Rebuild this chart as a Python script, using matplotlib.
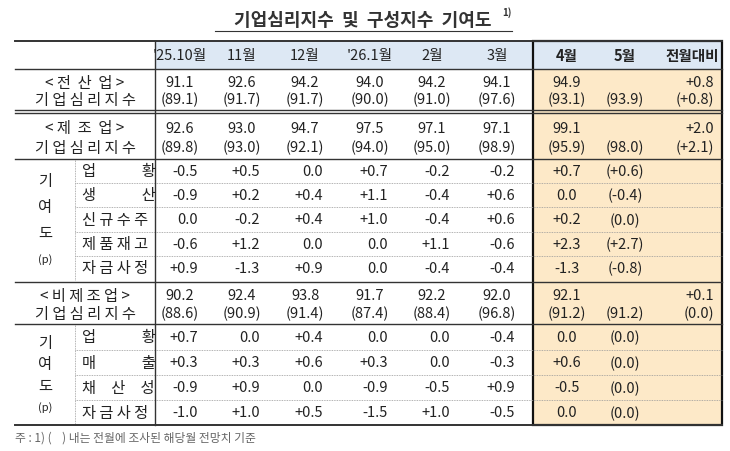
import matplotlib
matplotlib.use("Agg")
import matplotlib.pyplot as plt
from matplotlib.patches import Rectangle

plt.rcParams['font.family'] = ['Noto Sans CJK KR', 'DejaVu Sans']

title = "기업심리지수  및  구성지수  기여도"
months = ["'25.10월", "11월", "12월", "'26.1월", "2월", "3월"]
box_heads = ["4월", "5월", "전월대비"]

all_ind = ["91.1", "92.6", "94.2", "94.0", "94.2", "94.1"]
all_ind_prev = ["(89.1)", "(91.7)", "(91.7)", "(90.0)", "(91.0)", "(97.6)"]
all_box = ["94.9", "", "+0.8"]
all_box_prev = ["(93.1)", "(93.9)", "(+0.8)"]

mfg = ["92.6", "93.0", "94.7", "97.5", "97.1", "97.1"]
mfg_prev = ["(89.8)", "(93.0)", "(92.1)", "(94.0)", "(95.0)", "(98.9)"]
mfg_box = ["99.1", "", "+2.0"]
mfg_box_prev = ["(95.9)", "(98.0)", "(+2.1)"]
mfg_items = ["업　　　황", "생　　　산", "신 규 수 주", "제 품 재 고", "자 금 사 정"]
mfg_vals = [["-0.5", "+0.5", "0.0", "+0.7", "-0.2", "-0.2", "+0.7", "(+0.6)"],
            ["-0.9", "+0.2", "+0.4", "+1.1", "-0.4", "+0.6", "0.0", "(-0.4)"],
            ["0.0", "-0.2", "+0.4", "+1.0", "-0.4", "+0.6", "+0.2", "(0.0)"],
            ["-0.6", "+1.2", "0.0", "0.0", "+1.1", "-0.6", "+2.3", "(+2.7)"],
            ["+0.9", "-1.3", "+0.9", "0.0", "-0.4", "-0.4", "-1.3", "(-0.8)"]]

non = ["90.2", "92.4", "93.8", "91.7", "92.2", "92.0"]
non_prev = ["(88.6)", "(90.9)", "(91.4)", "(87.4)", "(88.4)", "(96.8)"]
non_box = ["92.1", "", "+0.1"]
non_box_prev = ["(91.2)", "(91.2)", "(0.0)"]
non_items = ["업　　　황", "매　　　출", "채　산　성", "자 금 사 정"]
non_vals = [["+0.7", "0.0", "+0.4", "0.0", "0.0", "-0.4", "0.0", "(0.0)"],
            ["+0.3", "+0.3", "+0.6", "+0.3", "0.0", "-0.3", "+0.6", "(0.0)"],
            ["-0.9", "+0.9", "0.0", "-0.9", "-0.5", "+0.9", "-0.5", "(0.0)"],
            ["-1.0", "+1.0", "+0.5", "-1.5", "+1.0", "-0.5", "0.0", "(0.0)"]]

fig = plt.figure(figsize=(7.3, 4.52), dpi=100)
ax = fig.add_axes([0, 0, 1, 1])
ax.set_xlim(0, 730); ax.set_ylim(452, 0); ax.axis('off')

L, R, LAB, BOX = 15, 722, 155, 533
cx = [180, 242, 305, 370, 432, 497, 567, 625, 692]
TOP, HB = 42, 70
fs = 10.5
col = '#222222'

ax.text(363, 20, title, ha='center', va='center', fontsize=13, fontweight='bold', color='#333')
ax.text(502, 13, "1)", fontsize=7, fontweight='bold', color='#333', va='center')
ax.plot([215, 512], [32, 32], color='#333', lw=0.8)

ax.add_patch(Rectangle((LAB, TOP), BOX - LAB, HB - TOP, color='#dde8f4', lw=0))
ax.add_patch(Rectangle((BOX, TOP), R - BOX, HB - TOP, color='#dde8f4', lw=0))
ax.add_patch(Rectangle((BOX, HB), R - BOX, 426 - HB, color='#fde9c8', lw=0))

for i, m in enumerate(months):
    ax.text(cx[i], 56, m, ha='center', va='center', fontsize=fs, color=col)
for i, m in enumerate(box_heads):
    ax.text(cx[6 + i], 56, m, ha='center', va='center', fontsize=fs, color=col, fontweight='bold')

def main_block(y0, y1, name, vals, prev, bv, bp):
    ya, yb = y0 + (y1 - y0) * 0.32, y0 + (y1 - y0) * 0.74
    ax.text(LAB - 70, ya, name, ha='center', va='center', fontsize=fs + 0.5, color=col)
    ax.text(LAB - 70, yb, "기 업 심 리 지 수", ha='center', va='center', fontsize=fs + 0.5, color=col)
    for i in range(6):
        ax.text(cx[i], ya, vals[i], ha='center', va='center', fontsize=fs, color=col)
        ax.text(cx[i], yb, prev[i], ha='center', va='center', fontsize=fs, color=col)
    ax.text(cx[6], ya, bv[0], ha='center', va='center', fontsize=fs, color=col)
    ax.text(cx[6], yb, bp[0], ha='center', va='center', fontsize=fs, color=col)
    ax.text(cx[7], yb, bp[1], ha='center', va='center', fontsize=fs, color=col)
    ax.text(R - 8, ya, bv[2], ha='right', va='center', fontsize=fs, color=col)
    ax.text(R - 8, yb, bp[2], ha='right', va='center', fontsize=fs, color=col)

def sub_block(ys, items, vals):
    for k, name in enumerate(items):
        y = (ys[k] + ys[k + 1]) / 2
        ax.text(82, y, name, ha='left', va='center', fontsize=fs + 0.5, color=col)
        for i in range(6):
            ax.text(cx[i] + 18, y, vals[k][i], ha='right', va='center', fontsize=fs, color=col)
        ax.text(cx[6], y, vals[k][6], ha='center', va='center', fontsize=fs, color=col)
        ax.text(cx[7], y, vals[k][7], ha='center', va='center', fontsize=fs, color=col)
        if k < len(items) - 1:
            ax.plot([75, R], [ys[k + 1]] * 2, color='#999', lw=0.6, ls=(0, (1, 1)))
    ax.plot([75, 75], [ys[0], ys[-1]], color='#999', lw=0.6, ls=(0, (1, 1)))
    h = ys[-1] - ys[0]
    for j, ch in enumerate(["기", "여", "도", "(p)"]):
        ax.text(45, ys[0] + h * 0.18 + h * 0.64 * j / 3, ch, ha='center', va='center',
                fontsize=fs + 0.5 if j < 3 else 8, color=col)

main_block(70, 111, "< 전  산  업 >", all_ind, all_ind_prev, all_box, all_box_prev)
main_block(114, 160, "< 제  조  업 >", mfg, mfg_prev, mfg_box, mfg_box_prev)
sub_block([160, 184, 208, 233, 257, 281], mfg_items, mfg_vals)
main_block(283, 325, "< 비 제 조 업 >", non, non_prev, non_box, non_box_prev)
sub_block([325, 351, 376, 401, 426], non_items, non_vals)

lk = dict(color='#333', lw=1.0)
ax.plot([L, R], [TOP, TOP], color='#333', lw=1.4)
for y in [HB, 111, 114, 160, 283, 325]:
    ax.plot([L, R], [y, y], **lk)
ax.plot([L, R], [426, 426], color='#333', lw=1.4)
ax.plot([LAB, LAB], [TOP, 426], **lk)
ax.add_patch(Rectangle((BOX, TOP), R - BOX, 426 - TOP, fill=False, ec='#111', lw=1.6))

ax.text(15, 438, "주 : 1) (    ) 내는 전월에 조사된 해당월 전망치 기준", ha='left', va='center',
        fontsize=8.5, color='#666')

fig.savefig("out.png", dpi=100)
